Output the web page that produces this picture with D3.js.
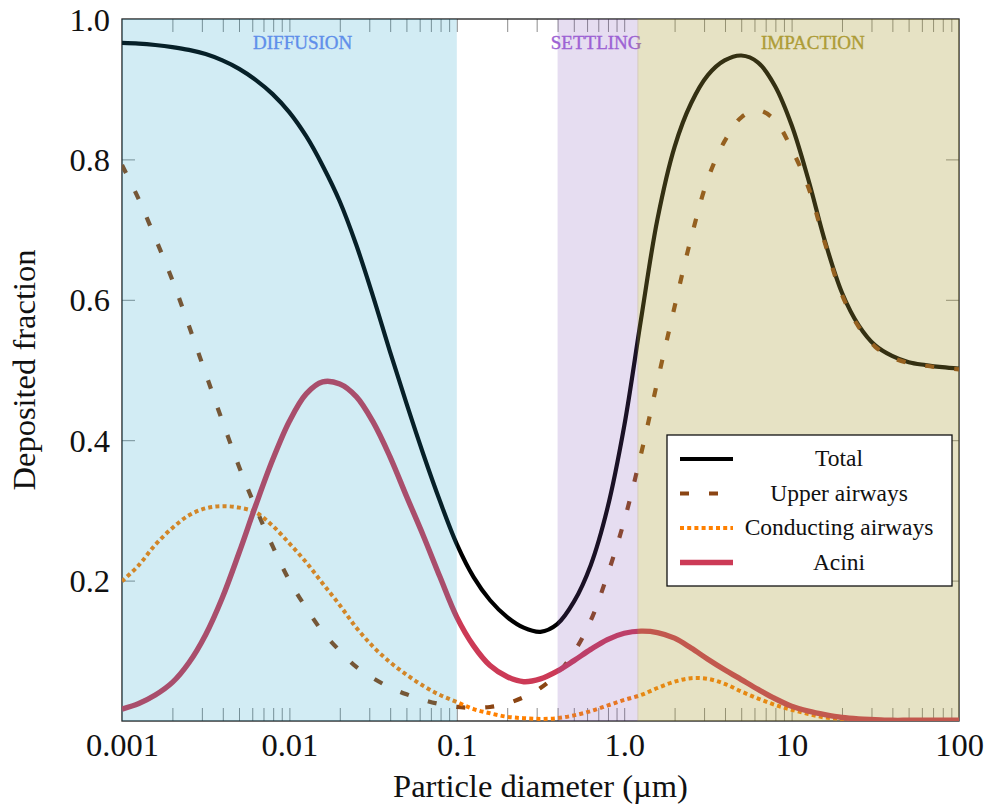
<!DOCTYPE html>
<html><head><meta charset="utf-8">
<script src="https://cdn.jsdelivr.net/npm/d3@7"></script>
<style>
body{margin:0;background:#fff}
svg{display:block}
text{font-family:"Liberation Serif","Times New Roman",serif;fill:#111}
</style>
</head><body>
<svg id="c" width="992" height="812"></svg>
<script>
// ---- data ----
const diameters = [0.001,0.00126,0.00158,0.00200,0.00251,0.00316,0.00398,0.00501,0.00631,0.00794,
  0.0100,0.0126,0.0158,0.0200,0.0251,0.0316,0.0398,0.0501,0.0631,0.0794,
  0.100,0.126,0.158,0.200,0.251,0.316,0.398,0.501,0.631,0.794,
  1.00,1.26,1.58,2.00,2.51,3.16,3.98,5.01,6.31,7.94,
  10.0,12.6,15.8,20.0,25.1,31.6,39.8,50.1,63.1,79.4,100];
const totalValues = [0.966,0.965,0.963,0.960,0.956,0.950,0.941,0.929,0.913,0.893,
  0.867,0.833,0.791,0.740,0.678,0.605,0.527,0.452,0.380,0.313,
  0.252,0.205,0.172,0.148,0.133,0.127,0.138,0.170,0.222,0.303,
  0.420,0.572,0.715,0.818,0.880,0.920,0.941,0.948,0.938,0.905,
  0.849,0.771,0.684,0.610,0.564,0.535,0.520,0.511,0.507,0.504,0.502];
const upperValues = [0.792,0.743,0.688,0.628,0.563,0.495,0.427,0.362,0.303,0.249,
  0.200,0.161,0.127,0.100,0.077,0.061,0.048,0.038,0.030,0.024,
  0.020,0.019,0.020,0.025,0.034,0.047,0.067,0.098,0.143,0.208,
  0.285,0.380,0.484,0.590,0.688,0.772,0.826,0.860,0.870,0.856,
  0.815,0.760,0.681,0.607,0.562,0.533,0.518,0.510,0.506,0.503,0.501];
const conductingValues = [0.199,0.222,0.251,0.275,0.293,0.303,0.306,0.304,0.297,0.278,
  0.253,0.226,0.196,0.165,0.133,0.106,0.084,0.066,0.050,0.037,
  0.027,0.017,0.011,0.006,0.004,0.003,0.004,0.008,0.014,0.022,
  0.030,0.037,0.047,0.056,0.061,0.060,0.053,0.042,0.032,0.023,
  0.016,0.010,0.005,0.003,0.002,0.001,0.001,0.001,0.001,0.001,0.001];
const aciniValues = [0.017,0.025,0.037,0.055,0.083,0.123,0.176,0.240,0.308,0.372,
  0.427,0.466,0.483,0.480,0.462,0.426,0.377,0.320,0.264,0.205,
  0.148,0.107,0.079,0.063,0.056,0.060,0.071,0.086,0.102,0.116,
  0.125,0.128,0.126,0.118,0.104,0.088,0.073,0.059,0.045,0.032,
  0.021,0.014,0.009,0.005,0.003,0.002,0.001,0.001,0.001,0.001,0.001];
const seriesNames = ["Total","Upper airways","Conducting airways","Acini"];
const bandNames = ["DIFFUSION","SETTLING","IMPACTION"];
const bandStart = [0.001,0.4,1.2];
const bandEnd = [0.1,1.215,100];
const xTickValues = [0.001,0.01,0.1,1,10,100];
const xTickLabels = ["0.001","0.01","0.1","1.0","10","100"];
const yTickValues = [0.2,0.4,0.6,0.8,1.0];
const yTickLabels = ["0.2","0.4","0.6","0.8","1.0"];

// ---- styles ----
const L = 122, R = 959, T = 19, B = 721;
const seriesStyle = [
  {color:"#000000", width:4.2, dash:null},
  {color:"#8b4513", width:4.2, dash:"9,20"},
  {color:"#ff8000", width:4, dash:"4,3.2"},
  {color:"#cc3a56", width:5.4, dash:null}
];
const bandStyle = [
  {fill:"rgb(30,160,200)", op:0.2, text:"#5f8fea", labelAt:0.012},
  {fill:"rgb(130,85,185)", op:0.2, text:"#9d62d4", labelAt:0.68},
  {fill:"rgb(172,158,58)", op:0.3, text:"#ad9c36", labelAt:13.4}
];

const svg = d3.select("#c");
const x = d3.scaleLog().domain([0.001,100]).range([L,R]);
const y = d3.scaleLinear().domain([0,1]).range([B,T]);

// minor/major ticks (inward, gray)
const allX = x.ticks().filter(d => d > 0.0011 && d < 99);
const tickCol = "#8c8c8c";
function styleTicks(g){ g.select(".domain").remove(); g.selectAll("line").attr("stroke",tickCol).attr("stroke-width",1); g.selectAll("text").remove(); }
svg.append("g").attr("transform",`translate(0,${B})`).call(d3.axisBottom(x).tickValues(allX).tickSize(-13).tickFormat("")).call(styleTicks);
svg.append("g").attr("transform",`translate(0,${T})`).call(d3.axisTop(x).tickValues(allX).tickSize(-13).tickFormat("")).call(styleTicks);
const yT = yTickValues.filter(v => v < 1);
svg.append("g").attr("transform",`translate(${L},0)`).call(d3.axisLeft(y).tickValues(yT).tickSize(-13).tickFormat("")).call(styleTicks);
svg.append("g").attr("transform",`translate(${R},0)`).call(d3.axisRight(y).tickValues(yT).tickSize(-13).tickFormat("")).call(styleTicks);

// frame
svg.append("rect").attr("x",L).attr("y",T).attr("width",R-L).attr("height",B-T)
  .attr("fill","none").attr("stroke","#1a1a1a").attr("stroke-width",1.3);

// lines
svg.append("clipPath").attr("id","clip").append("rect").attr("x",L).attr("y",T).attr("width",R-L).attr("height",B-T);
const allSeries = [totalValues, upperValues, conductingValues, aciniValues];
const line = d3.line().x(d => x(d[0])).y(d => y(d[1])).curve(d3.curveCatmullRom.alpha(0.5));
const lg = svg.append("g").attr("clip-path","url(#clip)");
allSeries.forEach((vals,i) => {
  const pts = diameters.map((d,j) => [d, vals[j]]);
  const s = seriesStyle[i];
  lg.append("path").attr("d", line(pts)).attr("fill","none")
    .attr("stroke", s.color).attr("stroke-width", s.width)
    .attr("stroke-dasharray", s.dash).attr("stroke-linejoin","round");
});

// band overlays
bandNames.forEach((n,i) => {
  svg.append("rect").attr("x", x(bandStart[i])).attr("y", T)
    .attr("width", x(bandEnd[i]) - x(bandStart[i])).attr("height", B - T)
    .attr("fill", bandStyle[i].fill).attr("fill-opacity", bandStyle[i].op);
  svg.append("text").attr("x", x(bandStyle[i].labelAt)).attr("y", 49)
    .attr("text-anchor","middle").style("font-size","19px").style("fill", bandStyle[i].text)
    .style("stroke", bandStyle[i].text).style("stroke-width","0.35px")
    .text(n);
});

// legend
const lgX = 667, lgY = 435, lgW = 285, lgH = 151;
svg.append("rect").attr("x",lgX).attr("y",lgY).attr("width",lgW).attr("height",lgH)
  .attr("fill","#fff").attr("stroke","#111").attr("stroke-width",1.3);
seriesNames.forEach((n,i) => {
  const ry = 459 + i*34.5;
  const s = seriesStyle[i];
  svg.append("line").attr("x1",680).attr("x2",733).attr("y1",ry).attr("y2",ry)
    .attr("stroke", s.color).attr("stroke-width", s.width).attr("stroke-dasharray", s.dash);
  svg.append("text").attr("x",839).attr("y",ry+7).attr("text-anchor","middle")
    .style("font-size","23.5px").text(n);
});

// tick labels
svg.append("g").attr("transform",`translate(0,${B})`)
  .call(d3.axisBottom(x).tickValues(xTickValues).tickFormat((d,i)=>xTickLabels[i]).tickSize(0).tickPadding(0))
  .call(g => { g.select(".domain").remove();
    g.selectAll("text").attr("y",35).attr("dy",null).style("font-size","32.5px").style("font-family",'"Liberation Serif",serif').attr("fill","#111"); });
svg.append("g").attr("transform",`translate(${L},0)`)
  .call(d3.axisLeft(y).tickValues(yTickValues).tickFormat((d,i)=>yTickLabels[i]).tickSize(0).tickPadding(0))
  .call(g => { g.select(".domain").remove();
    g.selectAll("text").attr("x",-12).attr("dy","0.34em").style("font-size","32.5px").style("font-family",'"Liberation Serif",serif').attr("fill","#111"); });

// axis titles
svg.append("text").attr("x",(L+R)/2).attr("y",797).attr("text-anchor","middle")
  .style("font-size","32.5px").text("Particle diameter (µm)");
svg.append("text").attr("transform",`translate(35,${(T+B)/2}) rotate(-90)`).attr("text-anchor","middle")
  .style("font-size","32.5px").text("Deposited fraction");
</script>
</body></html>
